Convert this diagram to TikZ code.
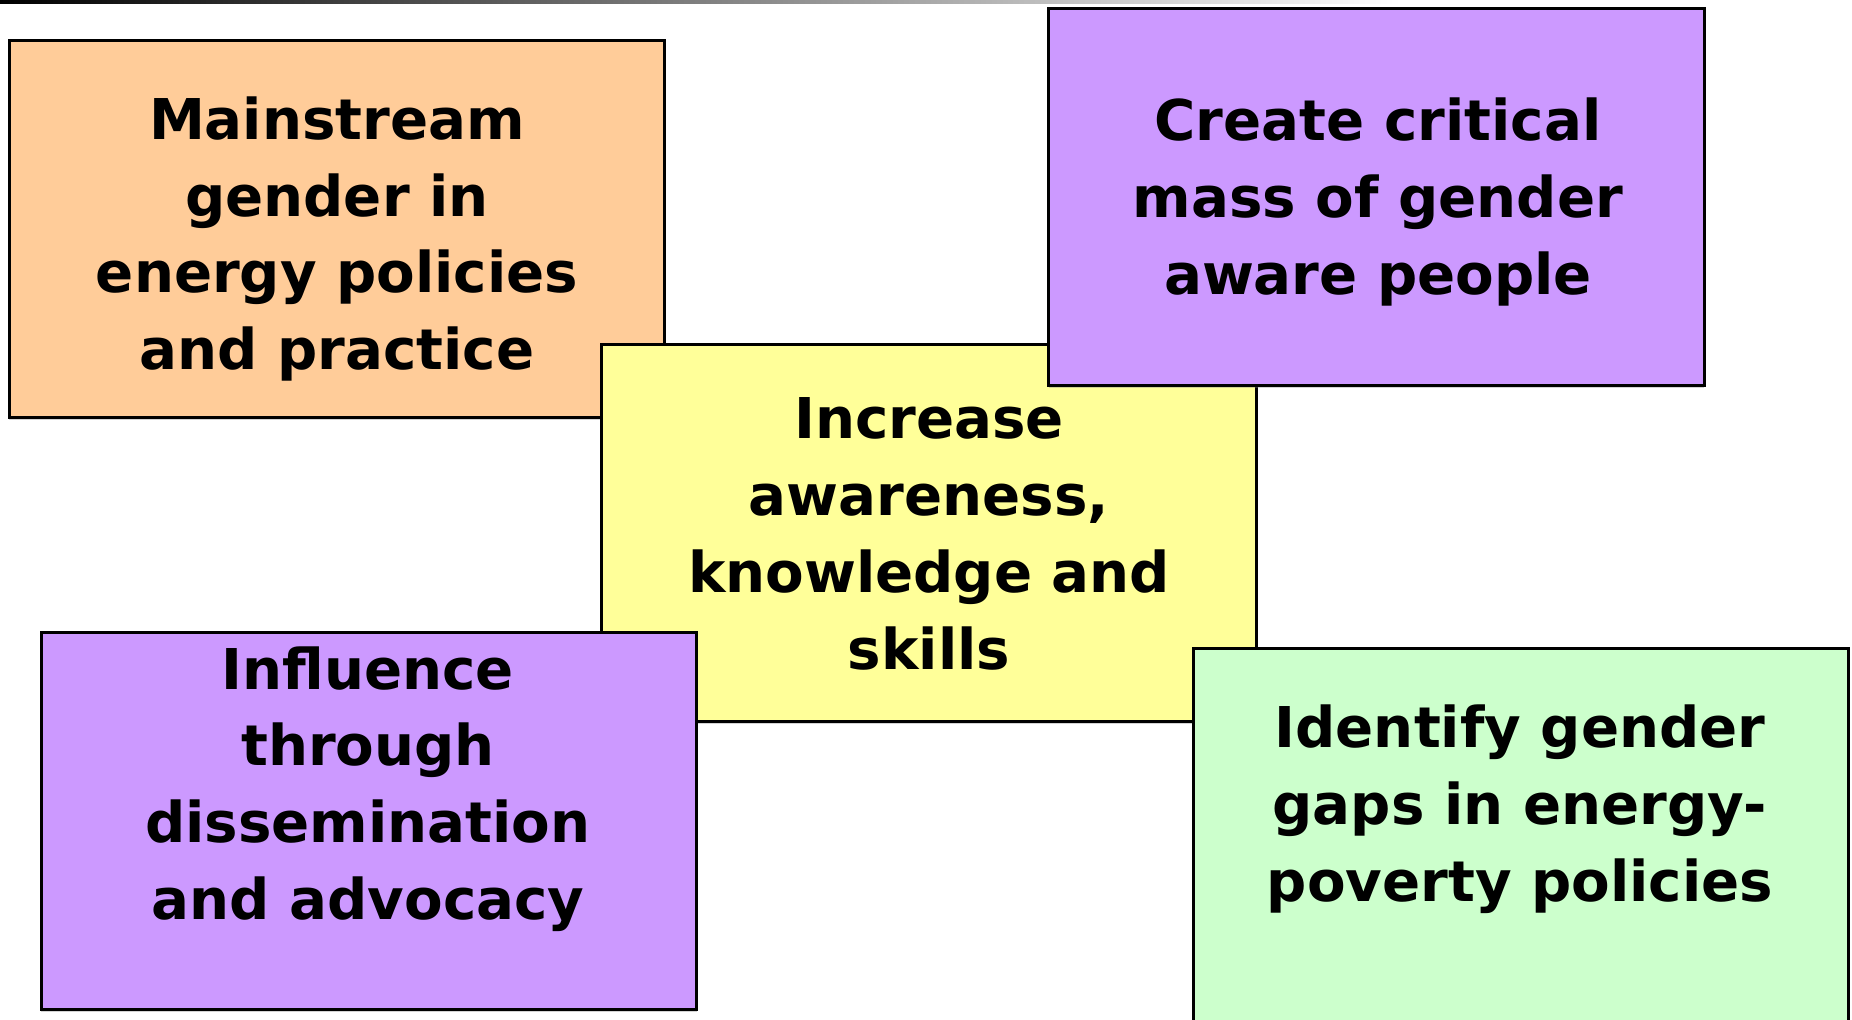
\documentclass[tikz,border=0pt]{standalone}
\usepackage{fontspec}
\setmainfont{DejaVu Sans}
\usetikzlibrary{shadows}
\definecolor{goalorange}{RGB}{255,204,153}
\definecolor{goalpurple}{RGB}{204,153,255}
\definecolor{goalyellow}{RGB}{255,255,153}
\definecolor{goalgreen}{RGB}{204,255,204}
\begin{document}
\begin{tikzpicture}[x=0.02cm,y=-0.02cm]
	\tikzset{goalbox/.style={draw=black,line width=1.7pt,inner sep=0pt,
			minimum width=13.12cm,minimum height=7.56cm,
			drop shadow={shadow xshift=0pt,shadow yshift=-1.2pt,opacity=0.35}},
		goaltext/.style={align=center,font=\fontsize{32}{43.7}\selectfont\bfseries}}
	\useasboundingbox (0,0) rectangle (1852,1019);
	\shade[left color=black,right color=white] (0,0) rectangle (1400,3);
	\node[goalbox,fill=goalorange] (mainstream) at (337,229) {};
	\node[goalbox,fill=goalyellow] (awareness) at (929,533) {};
	\node[goalbox,fill=goalpurple] (criticalmass) at (1376.5,197) {};
	\node[goalbox,fill=goalpurple] (influence) at (369,821) {};
	\node[goalbox,fill=goalgreen] (gaps) at (1521,837) {};
	\node[goaltext] (mainstreamtext) at (337,239) {Mainstream\\gender in\\energy policies\\and practice};
	\node[goaltext] (criticalmasstext) at (1378,202) {Create critical\\mass of gender\\aware people};
	\node[goaltext] (awarenesstext) at (929,534) {Increase\\awareness,\\knowledge and\\skills};
	\node[goaltext] (influencetext) at (368,789) {Influence\\through\\dissemination\\and advocacy};
	\node[goaltext] (gapstext) at (1520,809) {Identify gender\\gaps in energy-\\poverty policies};
\end{tikzpicture}
\end{document}
